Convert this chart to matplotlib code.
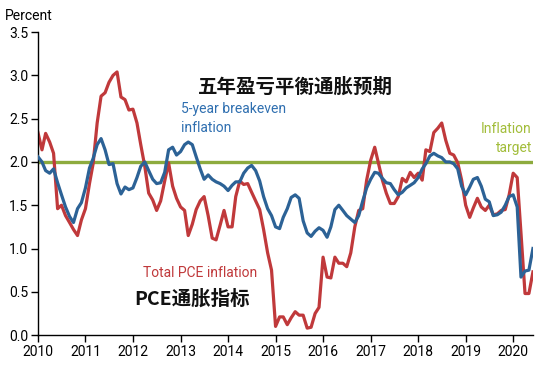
import pandas as pd
import matplotlib
matplotlib.use('Agg')
import matplotlib.pyplot as plt

plt.rcParams['font.family'] = ['Roboto', 'Noto Sans CJK SC', 'DejaVu Sans']
plt.rcParams['axes.unicode_minus'] = False

# monthly data, Jan 2010 - Jun 2020
dates = pd.date_range('2010-01-01', '2020-06-01', freq='MS')

pce = [
    2.34, 2.14, 2.33, 2.23, 2.10, 1.46, 1.50, 1.38, 1.30, 1.22, 1.15, 1.33,   # 2010
    1.46, 1.75, 1.98, 2.45, 2.76, 2.80, 2.92, 3.00, 3.04, 2.75, 2.72, 2.60,   # 2011
    2.61, 2.45, 2.20, 1.95, 1.64, 1.56, 1.44, 1.55, 1.78, 1.99, 1.72, 1.58,   # 2012
    1.48, 1.44, 1.15, 1.28, 1.45, 1.55, 1.60, 1.38, 1.12, 1.10, 1.27, 1.44,   # 2013
    1.25, 1.25, 1.60, 1.78, 1.74, 1.75, 1.65, 1.55, 1.45, 1.22, 0.95, 0.75,   # 2014
    0.10, 0.21, 0.21, 0.12, 0.20, 0.27, 0.23, 0.23, 0.08, 0.09, 0.25, 0.32,   # 2015
    0.90, 0.67, 0.66, 0.90, 0.83, 0.83, 0.79, 0.95, 1.25, 1.44, 1.46, 1.79,   # 2016
    2.02, 2.17, 1.99, 1.79, 1.64, 1.52, 1.52, 1.60, 1.81, 1.77, 1.88, 1.82,   # 2017
    1.87, 1.79, 2.14, 2.12, 2.34, 2.39, 2.45, 2.25, 2.10, 2.08, 1.99, 1.79,   # 2018
    1.50, 1.36, 1.47, 1.58, 1.48, 1.44, 1.50, 1.39, 1.40, 1.44, 1.45, 1.62,   # 2019
    1.87, 1.82, 1.18, 0.48, 0.48, 0.73,                                       # 2020
]

breakeven = [
    2.06, 2.00, 1.90, 1.87, 1.92, 1.76, 1.62, 1.48, 1.37, 1.30, 1.46, 1.53,   # 2010
    1.70, 1.93, 2.04, 2.20, 2.27, 2.14, 1.97, 1.98, 1.75, 1.63, 1.71, 1.68,   # 2011
    1.70, 1.82, 1.95, 2.00, 1.90, 1.80, 1.75, 1.76, 1.88, 2.14, 2.17, 2.08,   # 2012
    2.12, 2.20, 2.23, 2.20, 2.06, 1.92, 1.80, 1.85, 1.80, 1.77, 1.75, 1.72,   # 2013
    1.67, 1.73, 1.77, 1.77, 1.87, 1.93, 1.96, 1.90, 1.78, 1.60, 1.46, 1.38,   # 2014
    1.25, 1.23, 1.36, 1.46, 1.59, 1.62, 1.58, 1.32, 1.18, 1.14, 1.20, 1.24,   # 2015
    1.21, 1.13, 1.25, 1.45, 1.50, 1.44, 1.38, 1.34, 1.30, 1.38, 1.55, 1.70,   # 2016
    1.80, 1.88, 1.87, 1.81, 1.76, 1.75, 1.68, 1.62, 1.65, 1.70, 1.73, 1.76,   # 2017
    1.82, 1.92, 1.98, 2.07, 2.10, 2.07, 2.05, 2.00, 2.00, 1.98, 1.92, 1.72,   # 2018
    1.62, 1.71, 1.80, 1.82, 1.72, 1.57, 1.54, 1.38, 1.39, 1.42, 1.50, 1.60,   # 2019
    1.62, 1.48, 0.67, 0.74, 0.75, 1.00,                                       # 2020
]

target = 2.0
years = list(range(2010, 2021))
yticks = [0.0, 0.5, 1.0, 1.5, 2.0, 2.5, 3.0, 3.5]

RED = '#c0393b'
BLUE = '#2c6296'
GREEN = '#8dab3e'


def draw_chart():
    fig = plt.figure(figsize=(5.5, 3.65), dpi=100)
    ax = fig.add_axes([0.069, 0.082, 0.9, 0.83])

    ax.axhline(target, color=GREEN, linewidth=2.4, zorder=1)
    ax.plot(dates, pce, color=RED, linewidth=2.3, zorder=2)
    ax.plot(dates, breakeven, color=BLUE, linewidth=2.3, zorder=3)

    ax.set_xlim(pd.Timestamp('2010-01-01'), pd.Timestamp('2020-06-01'))
    ax.set_ylim(0, 3.5)
    ax.set_yticks(yticks)
    ax.set_yticklabels([f'{v:.1f}' for v in yticks])
    ax.set_xticks([pd.Timestamp(f'{y}-01-01') for y in years])
    ax.set_xticklabels([str(y) for y in years])

    for s in ['top', 'right']:
        ax.spines[s].set_visible(False)
    for s in ['left', 'bottom']:
        ax.spines[s].set_linewidth(1.0)
    ax.tick_params(axis='both', direction='out', length=5, width=1,
                   labelsize=10, pad=2)

    fig.text(0.008, 0.955, 'Percent', fontsize=10, va='center', ha='left')

    ax.text(0.52, 0.82, '五年盈亏平衡通胀预期', transform=ax.transAxes,
            fontsize=14, fontweight='bold', ha='center', va='center',
            family=['Noto Sans CJK SC', 'DejaVu Sans'], color='#111111')
    ax.text(0.288, 0.77, '5-year breakeven\ninflation', transform=ax.transAxes,
            fontsize=10, ha='left', va='top', color='#2f6fb0', linespacing=1.45)
    ax.text(0.998, 0.65, 'Inflation\ntarget', transform=ax.transAxes,
            fontsize=10, ha='right', va='center', color='#a2bd3a',
            linespacing=1.45)
    ax.text(0.212, 0.205, 'Total PCE inflation', transform=ax.transAxes,
            fontsize=10, ha='left', va='center', color=RED)
    ax.text(0.195, 0.12, 'PCE通胀指标', transform=ax.transAxes,
            fontsize=14, fontweight='bold', ha='left', va='center',
            family=['Noto Sans CJK SC', 'DejaVu Sans'], color='#111111')

    fig.savefig('out.png', dpi=100)
    plt.close(fig)


if __name__ == '__main__':
    draw_chart()
